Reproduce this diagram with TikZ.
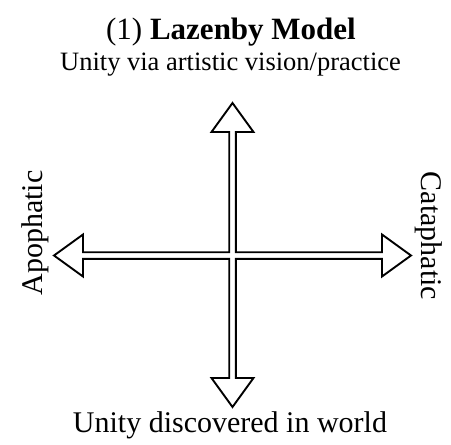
\documentclass[tikz,border=0pt]{standalone}
\usepackage{fontspec}
\setmainfont{Liberation Serif}
\usetikzlibrary{calc}
\begin{document}
\begin{tikzpicture}[x=1pt,y=1pt,
  lbl/.style={inner sep=0pt,anchor=base},
  arrowline/.style={draw=black,line width=1.9pt,line join=miter,fill=white}]
\useasboundingbox (0,0) rectangle (451,-445);
\def\cx{232.5}\def\cy{-255.5}
\def\w{3.3}\def\hw{21}\def\hl{29}
\coordinate (c) at (\cx,\cy);
\coordinate (ttip) at (\cx,\cy+152.5);
\coordinate (btip) at (\cx,\cy-151.5);
\coordinate (ltip) at (\cx-178.5,\cy);
\coordinate (rtip) at (\cx+178.5,\cy);
\draw[arrowline]
  (ttip) -- ++(\hw,-\hl) -- ($(c)+(\w,123.5)$) -- ($(c)+(\w,\w)$)
  -- ($(c)+(149.5,\w)$) -- ($(c)+(149.5,\hw)$) -- (rtip) -- ($(c)+(149.5,-\hw)$) -- ($(c)+(149.5,-\w)$)
  -- ($(c)+(\w,-\w)$) -- ($(c)+(\w,-122.5)$) -- ($(c)+(\hw,-122.5)$) -- (btip) -- ($(c)+(-\hw,-122.5)$)
  -- ($(c)+(-\w,-122.5)$) -- ($(c)+(-\w,-\w)$) -- ($(c)+(-149.5,-\w)$) -- ($(c)+(-149.5,-\hw)$) -- (ltip)
  -- ($(c)+(-149.5,\hw)$) -- ($(c)+(-149.5,\w)$) -- ($(c)+(-\w,\w)$) -- ($(c)+(-\w,123.5)$) -- ($(c)+(-\hw,123.5)$) -- cycle;
\node[lbl] (title) at (231,-39) {\fontsize{31}{36}\selectfont (1) \textbf{Lazenby Model}};
\node[lbl] (top) at (230.5,-70) {\fontsize{26.5}{31}\selectfont Unity via artistic vision/practice};
\node[lbl] (bottom) at (230,-432) {\fontsize{30}{35}\selectfont Unity discovered in world};
\node[lbl,rotate=90] (left) at (42,-233) {\fontsize{30}{35}\selectfont Apophatic};
\node[lbl,rotate=-90] (right) at (421,-236) {\fontsize{30}{35}\selectfont Cataphatic};
\end{tikzpicture}
\end{document}
